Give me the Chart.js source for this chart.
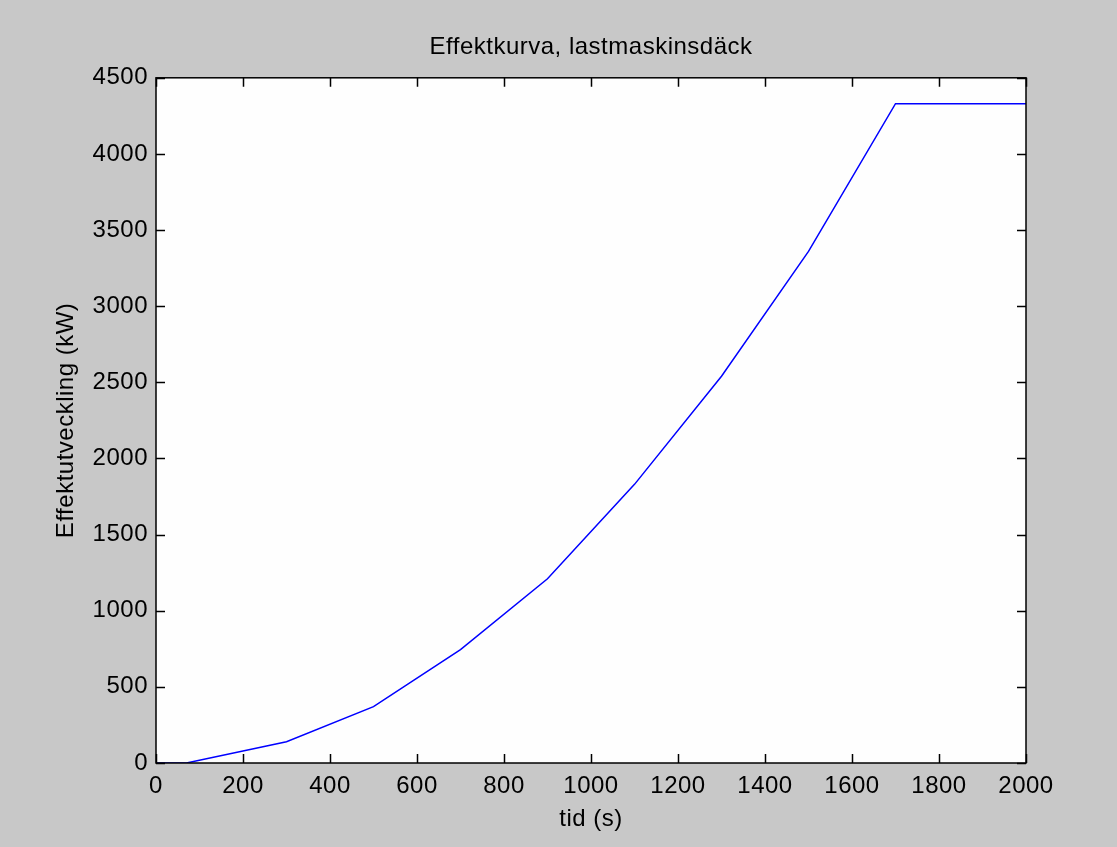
<!DOCTYPE html>
<html>
<head>
<meta charset="utf-8">
<script src="https://cdn.jsdelivr.net/npm/chart.js@4.4.1/dist/chart.umd.min.js"></script>
<style>
  html, body { margin: 0; padding: 0; background: #c8c8c8; }
  #wrap { width: 1117px; height: 847px; }
</style>
</head>
<body>
<div id="wrap"><canvas id="chart" width="1117" height="847"></canvas></div>
<script>
// values
const timeValues = [0, 70, 300, 500, 700, 900, 1100, 1300, 1500, 1700, 2000];
const powerValues = [0, 0, 140, 370, 745, 1210, 1830, 2540, 3360, 4330, 4330];
const xTicks = [0, 200, 400, 600, 800, 1000, 1200, 1400, 1600, 1800, 2000];
const yTicks = [0, 500, 1000, 1500, 2000, 2500, 3000, 3500, 4000, 4500];

const titleText = 'Effektkurva, lastmaskinsdäck';
const xLabel = 'tid (s)';
const yLabel = 'Effektutveckling (kW)';

const points = timeValues.map((t, i) => ({ x: t, y: powerValues[i] }));

// white plot box plus inward ticks on all four sides (matlab style)
const boxPlugin = {
    id: 'box',
    beforeDraw(chart) {
        const { ctx, chartArea: a } = chart;
        ctx.letterSpacing = '0.5px'; // the old matlab font is spaced a bit wider
        ctx.save();
        ctx.fillStyle = '#fefefe';
        ctx.fillRect(a.left, a.top, a.right - a.left, a.bottom - a.top);
        ctx.restore();
    },
    afterDraw(chart) {
        const { ctx, chartArea: a } = chart;
        const xs = chart.scales.x;
        const ys = chart.scales.y;
        const len = 9;
        ctx.save();
        ctx.strokeStyle = '#000';
        ctx.lineWidth = 1.5;
        ctx.beginPath();
        xTicks.forEach(v => {
            const px = Math.round(xs.getPixelForValue(v)) + 0.5;
            ctx.moveTo(px, a.bottom); ctx.lineTo(px, a.bottom - len);
            ctx.moveTo(px, a.top); ctx.lineTo(px, a.top + len);
        });
        yTicks.forEach(v => {
            const py = Math.round(ys.getPixelForValue(v)) + 0.5;
            ctx.moveTo(a.left, py); ctx.lineTo(a.left + len, py);
            ctx.moveTo(a.right, py); ctx.lineTo(a.right - len, py);
        });
        ctx.stroke();
        ctx.strokeRect(a.left, a.top, a.right - a.left, a.bottom - a.top);
        ctx.restore();
    }
};

const font = { family: 'Liberation Sans, Arial, sans-serif', size: 24, weight: 'normal' };

new Chart(document.getElementById('chart').getContext('2d'), {
    type: 'line',
    data: {
        datasets: [{
            data: points,
            borderColor: '#0000ff',
            borderWidth: 1.5,
            pointRadius: 0,
            tension: 0,
            fill: false
        }]
    },
    options: {
        responsive: false,
        animation: false,
        layout: { padding: { left: 52, right: 91, top: 0, bottom: 13 } },
        plugins: {
            legend: { display: false },
            tooltip: { enabled: false },
            title: {
                display: true,
                text: titleText,
                color: '#000',
                font: font,
                fullSize: false,
                padding: { top: 33, bottom: 16 }
            }
        },
        scales: {
            x: {
                type: 'linear',
                min: 0,
                max: 2000,
                afterBuildTicks: s => { s.ticks = xTicks.map(v => ({ value: v })); },
                afterFit: s => { s.height = 71; },
                grid: { display: false, drawTicks: false },
                border: { display: false },
                ticks: { color: '#000', font: font, padding: 9, maxRotation: 0, callback: v => String(v) },
                title: { display: true, text: xLabel, color: '#000', font: font, padding: 0 }
            },
            y: {
                type: 'linear',
                min: 0,
                max: 4500,
                afterBuildTicks: s => { s.ticks = yTicks.map(v => ({ value: v })); },
                afterFit: s => { s.width = 104; },
                grid: { display: false, drawTicks: false },
                border: { display: false },
                ticks: { color: '#000', font: font, padding: 8, callback: v => String(v) },
                title: { display: true, text: yLabel, color: '#000', font: font, padding: 0 }
            }
        }
    },
    plugins: [boxPlugin]
});
</script>
</body>
</html>
